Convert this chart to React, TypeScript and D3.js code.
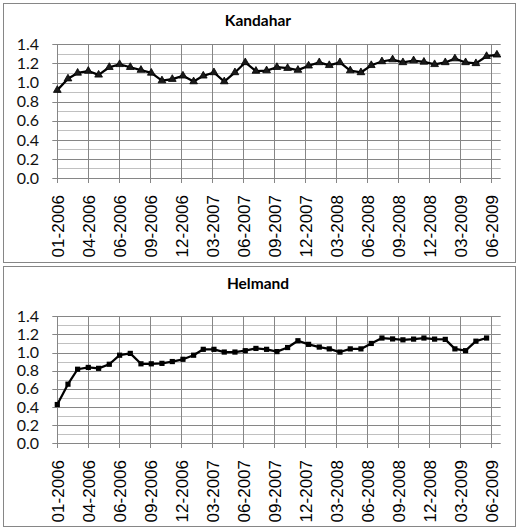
import React from "react";
import * as d3 from "d3";

const kandahar = [
  0.92, 1.04, 1.10, 1.12, 1.08, 1.16, 1.19, 1.16, 1.13, 1.10,
  1.02, 1.035, 1.07, 1.01, 1.07, 1.105, 1.01, 1.105, 1.21, 1.12,
  1.125, 1.16, 1.15, 1.13, 1.175, 1.21, 1.18, 1.21, 1.125, 1.105,
  1.18, 1.22, 1.24, 1.21, 1.23, 1.215, 1.19, 1.21, 1.25, 1.21,
  1.20, 1.275, 1.29,
];
const helmand = [
  0.425, 0.65, 0.815, 0.835, 0.825, 0.87, 0.97, 0.99, 0.875, 0.875,
  0.88, 0.90, 0.925, 0.97, 1.035, 1.035, 1.005, 1.005, 1.02, 1.045,
  1.035, 1.01, 1.055, 1.13, 1.09, 1.06, 1.04, 1.005, 1.04, 1.04,
  1.10, 1.16, 1.15, 1.14, 1.148, 1.16, 1.148, 1.145, 1.04, 1.02,
  1.125, 1.16,
];
const tickLabels = [
  "01-2006", "04-2006", "06-2006", "09-2006", "12-2006", "03-2007", "06-2007",
  "09-2007", "12-2007", "03-2008", "06-2008", "09-2008", "12-2008", "03-2009", "06-2009",
];
const yTicks = [0, 0.2, 0.4, 0.6, 0.8, 1.0, 1.2, 1.4];
const yMinor = [0.1, 0.3, 0.5, 0.7, 0.9, 1.1, 1.3];

const start = new Date(Date.UTC(2006, 0, 1));
const monthDate = (i: number) => d3.utcMonth.offset(start, i);
const tickDate = (i: number) => d3.utcDay.offset(start, 90 * i);

const x = d3
  .scaleUtc()
  .domain([start, d3.utcDay.offset(start, 1288)])
  .range([57.3, 500.7]);

const MAJ = "#868686";
const MIN = "#c0c0c0";

function Panel({
  title, values, top, bottom, y0, y14, marker,
}: {
  title: string; values: number[]; top: number; bottom: number;
  y0: number; y14: number; marker: "tri" | "sq";
}) {
  const y = d3.scaleLinear().domain([0, 1.4]).range([y0, y14]);
  const line = d3
    .line<number>()
    .x((_, i) => x(monthDate(i)))
    .y((d) => y(d));
  const [x0, x1] = x.range();
  const tri = d3.symbol().type(d3.symbolTriangle).size(26)();
  return (
    <g>
      <rect x={3.5} y={top + 0.5} width={512} height={bottom - top} fill="#fff" stroke={MAJ} strokeWidth={1} />
      <text x={258} y={top + 23} textAnchor="middle" fontFamily="Lato, 'Open Sans', sans-serif" fontWeight="bold" fontSize={15.5} fill="#000">
        {title}
      </text>
      {yMinor.map((v) => (
        <line key={"m" + v} x1={x0} x2={x1} y1={Math.round(y(v)) + 0.5} y2={Math.round(y(v)) + 0.5} stroke={MIN} />
      ))}
      {yTicks.map((v) => (
        <g key={"y" + v}>
          <line x1={x0 - 5} x2={x1} y1={Math.round(y(v)) + 0.5} y2={Math.round(y(v)) + 0.5} stroke={MAJ} />
          <text x={39} y={y(v)} dy="0.36em" textAnchor="end" fontFamily="Lato, sans-serif" fontSize={16} fill="#111">
            {v.toFixed(1)}
          </text>
        </g>
      ))}
      {tickLabels.map((lab, i) => {
        const tx = Math.round(x(tickDate(i))) + 0.5;
        return (
          <g key={lab}>
            <line x1={tx} x2={tx} y1={y14} y2={y0 + 5} stroke={MAJ} />
            <text
              transform={`translate(${tx + 6},${y0 + 17}) rotate(-90)`}
              textAnchor="end"
              fontFamily="'Liberation Sans', Arial, sans-serif"
              fontSize={17}
              fill="#000"
            >
              {lab}
            </text>
          </g>
        );
      })}
      <line x1={Math.round(x0) + 0.5} x2={Math.round(x0) + 0.5} y1={y14} y2={y0} stroke={MAJ} />
      <path d={line(values) || ""} fill="none" stroke="#000" strokeWidth={2.25} strokeLinejoin="round" />
      {values.map((v, i) => {
        const px = x(monthDate(i));
        const py = y(v);
        return marker === "tri" ? (
          <path key={i} d={tri || ""} transform={`translate(${px},${py})`} fill="#1a1a1a" stroke="#000" strokeWidth={0.8} />
        ) : (
          <rect key={i} x={px - 2.6} y={py - 2.6} width={5.2} height={5.2} fill="#000" />
        );
      })}
    </g>
  );
}

export default function App() {
  return (
    <svg width={517} height={528} style={{ position: "absolute", left: 0, top: 0, background: "#fff" }}>
      <rect width={517} height={528} fill="#fff" />
      <Panel title="Kandahar" values={kandahar} top={3} bottom={262} y0={178} y14={44.3} marker="tri" />
      <Panel title="Helmand" values={helmand} top={266} bottom={526} y0={443} y14={316.3} marker="sq" />
    </svg>
  );
}
